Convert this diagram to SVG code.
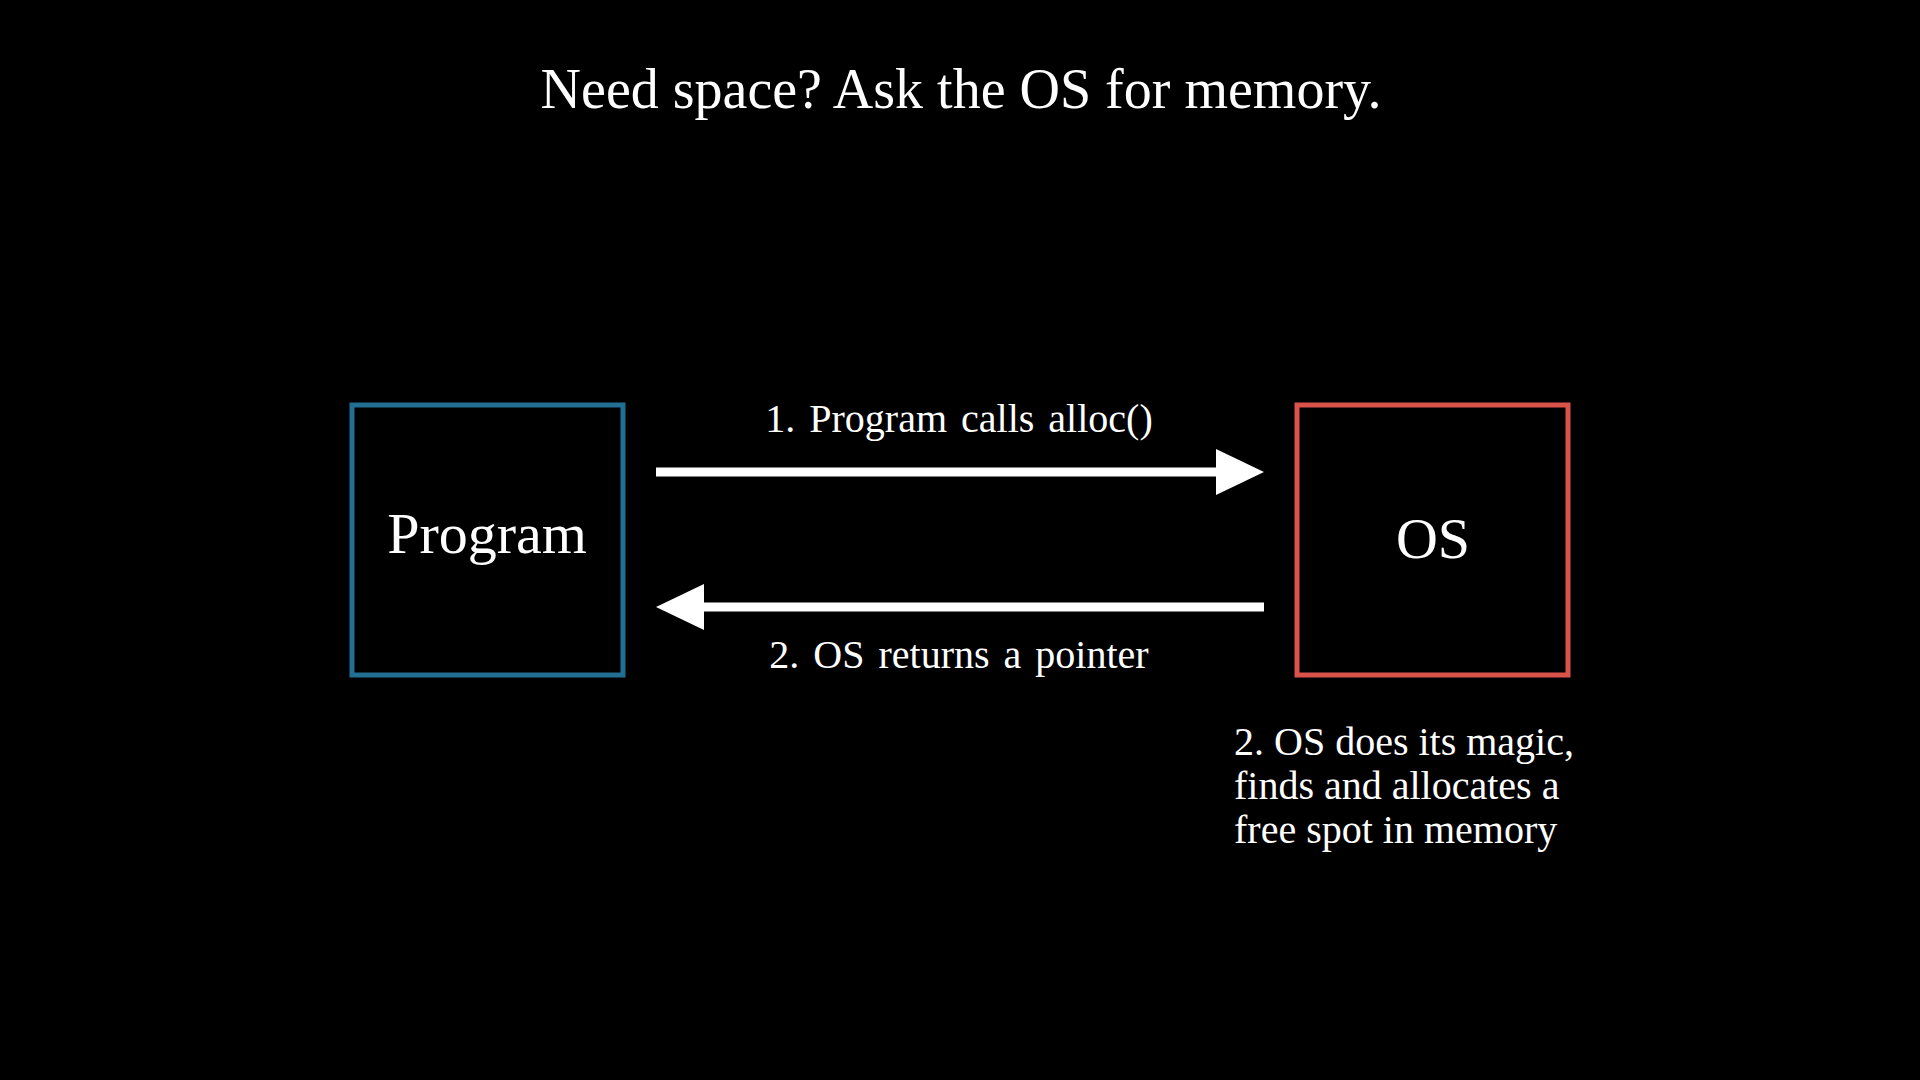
<svg xmlns="http://www.w3.org/2000/svg" width="1920" height="1080" viewBox="0 0 1920 1080">
<style>
text{font-family:"Liberation Serif","Times New Roman",serif;fill:#fff}
.box{fill:none;stroke-width:5}
.ln{stroke:#fff;stroke-width:9}
</style>
<rect width="1920" height="1080" fill="#000"/>
<text x="961" y="108" font-size="56" text-anchor="middle">Need space? Ask the OS for memory.</text>
<g id="program"><rect class="box" x="352" y="405" width="271" height="270" stroke="#226f93"/>
<text x="487" y="553" font-size="58" text-anchor="middle">Program</text></g>
<g id="os"><rect class="box" x="1297" y="405" width="271" height="270" stroke="#d9534a"/>
<text x="1433" y="558" font-size="58" text-anchor="middle">OS</text></g>
<g id="connectors">
<line class="ln" x1="656" y1="472" x2="1220" y2="472"/>
<polygon points="1216,449 1264,472 1216,495" fill="#fff"/>
<line class="ln" x1="700" y1="607" x2="1264" y2="607"/>
<polygon points="704,584 656,607 704,630" fill="#fff"/>
<text x="959" y="432" font-size="40" text-anchor="middle" word-spacing="4">1. Program calls alloc()</text>
<text x="959" y="668" font-size="40" text-anchor="middle" word-spacing="4">2. OS returns a pointer</text>
</g>
<g id="note" font-size="40">
<text x="1234" y="755">2. OS does its magic,</text>
<text x="1234" y="799">finds and allocates a</text>
<text x="1234" y="843">free spot in memory</text>
</g>
</svg>
